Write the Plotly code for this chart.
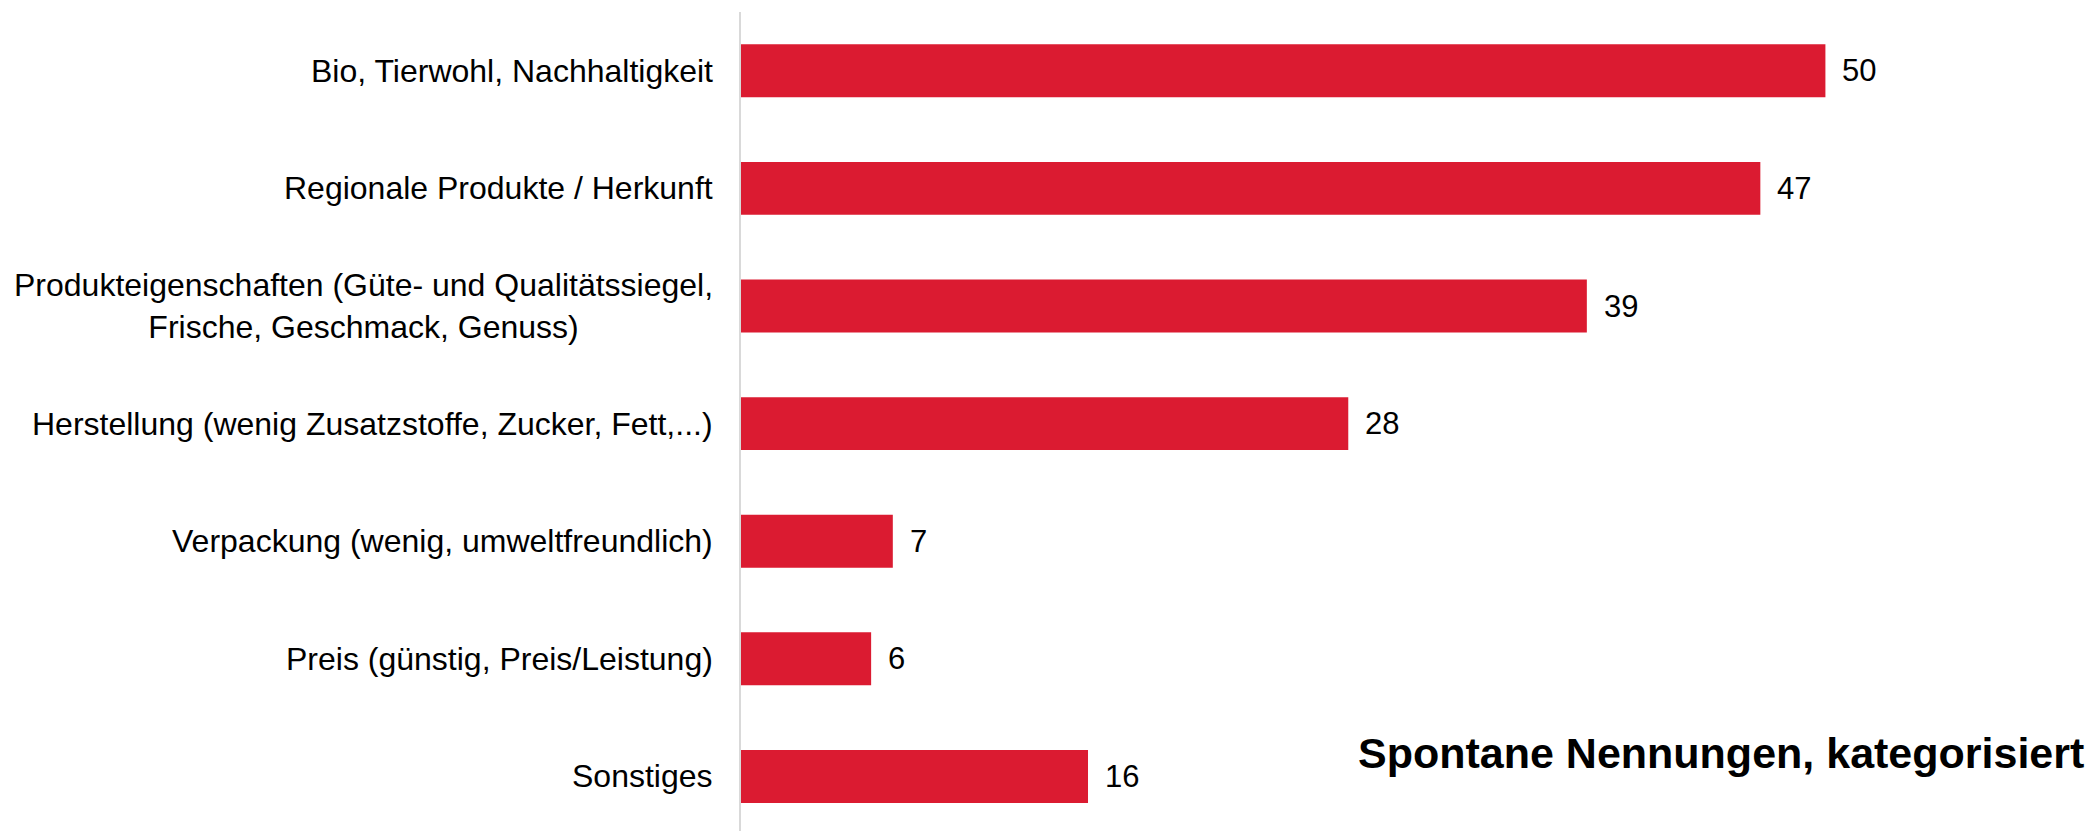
import plotly.graph_objects as go

categories = [
    "Bio, Tierwohl, Nachhaltigkeit",
    "Regionale Produkte / Herkunft",
    "Produkteigenschaften (Güte- und Qualitätssiegel,<br>Frische, Geschmack, Genuss)",
    "Herstellung (wenig Zusatzstoffe, Zucker, Fett,...)",
    "Verpackung (wenig, umweltfreundlich)",
    "Preis (günstig, Preis/Leistung)",
    "Sonstiges",
]
values = [50, 47, 39, 28, 7, 6, 16]
note_text = "Spontane Nennungen, kategorisiert"

BAR_COLOR = "#DB1B31"
FONT = "Liberation Sans, Arial, sans-serif"

fig = go.Figure()
fig.add_trace(go.Bar(
    x=values,
    y=list(range(len(categories))),
    orientation="h",
    marker=dict(color=BAR_COLOR, line=dict(width=0)),
    width=0.45,
    hovertext=categories,
    hoverinfo="x+text",
    showlegend=False,
))

annotations = []
# value labels
for i, v in enumerate(values):
    annotations.append(dict(
        x=v, y=i, xref="x", yref="y", text=str(v), showarrow=False,
        xanchor="left", yanchor="middle", xshift=15,
        font=dict(family=FONT, size=31, color="#000000"),
    ))
# category labels (centered multi-line, right anchored)
for i, c in enumerate(categories):
    annotations.append(dict(
        x=0, y=i, xref="x", yref="y", text=c, showarrow=False,
        xanchor="right", yanchor="middle", align="center", xshift=-26,
        font=dict(family=FONT, size=32, color="#000000"),
    ))
# note
annotations.append(dict(
    x=1, y=0.095, xref="paper", yref="paper", text="<b>" + note_text + "</b>",
    showarrow=False, xanchor="right", yanchor="middle", xshift=-4,
    font=dict(family=FONT, size=43, color="#000000"),
))

fig.update_layout(
    width=2090, height=831,
    margin=dict(l=741, r=0, t=12, b=0),
    paper_bgcolor="white", plot_bgcolor="white",
    annotations=annotations,
    xaxis=dict(range=[0, 62.2], showgrid=False, zeroline=False,
               showticklabels=False, showline=False, fixedrange=True),
    yaxis=dict(range=[6.464, -0.5], showgrid=False, zeroline=False,
               showticklabels=False, showline=True, linecolor="#D9D9D9",
               linewidth=2, ticks=""),
)

fig.write_html("out.html")
